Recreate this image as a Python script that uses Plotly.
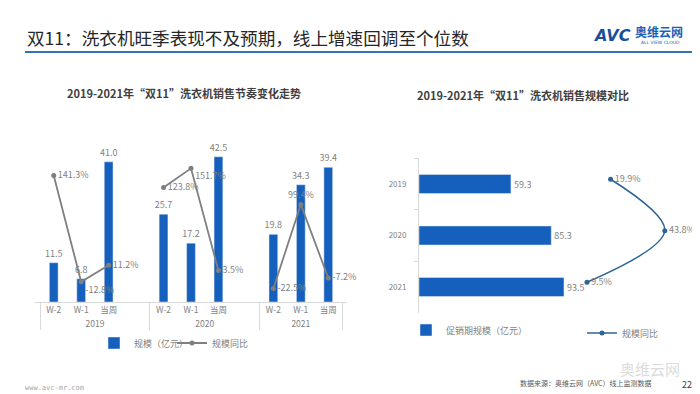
import plotly.graph_objects as go

# ---------------- data ----------------
years = ["2019", "2020", "2021"]
weeks = ["W-2", "W-1", "当周"]
scale_2019 = [11.5, 6.8, 41.0]
scale_2020 = [25.7, 17.2, 42.5]
scale_2021 = [19.8, 34.3, 39.4]
yoy_2019 = [141.3, -12.8, 11.2]
yoy_2020 = [123.8, 151.7, 3.5]
yoy_2021 = [-22.5, 99.4, -7.2]

promo_years = ["2019", "2020", "2021"]
promo_scale = [59.3, 85.3, 93.5]
promo_yoy = [19.9, 43.8, 9.5]

FONT = "Noto Sans CJK SC"
BLUE = "#1560BD"
GRAY = "#7f7f7f"
LINEBLUE = "#2c6496"

# build multicategory axis (blank slot after 2019 and 2020, as in the source chart)
cat_year, cat_week, bar_vals, line_vals = [], [], [], []
for i, (y, sv, lv) in enumerate(zip(years, [scale_2019, scale_2020, scale_2021],
                                     [yoy_2019, yoy_2020, yoy_2021])):
    for w, s, l in zip(weeks, sv, lv):
        cat_year.append(y); cat_week.append(w); bar_vals.append(s); line_vals.append(l)
    if i < len(years) - 1:
        cat_year.append(y); cat_week.append(" "); bar_vals.append(None); line_vals.append(None)

bar_text = ["" if v is None else f"{v:.1f}" for v in bar_vals]
line_text = ["" if v is None else f"{v:.1f}%" for v in line_vals]
line_pos = []
for v in line_vals:
    if v is None:
        line_pos.append("middle right")
    elif v in (-12.8, 151.7):
        line_pos.append("bottom right")
    elif v == 99.4:
        line_pos.append("top center")
    else:
        line_pos.append("middle right")

fig = go.Figure()

# left chart bars
fig.add_trace(go.Bar(
    x=[cat_year, cat_week], y=bar_vals, name="规模（亿元）",
    marker_color=BLUE, width=0.32,
    text=bar_text, textposition="outside", cliponaxis=False, constraintext="none",
    textfont=dict(size=9, color=GRAY, family=FONT),
    xaxis="x", yaxis="y", legend="legend",
))
# left chart line
fig.add_trace(go.Scatter(
    x=[cat_year, cat_week], y=line_vals, name="规模同比",
    mode="lines+markers+text", connectgaps=False,
    line=dict(color=GRAY, width=1.8), marker=dict(size=5, color=GRAY),
    text=line_text, textposition=line_pos, cliponaxis=False,
    textfont=dict(size=9, color=GRAY, family=FONT),
    xaxis="x", yaxis="y2", legend="legend4",
))

# right chart bars
fig.add_trace(go.Bar(
    x=promo_scale, y=promo_years, orientation="h", name="促销期规模（亿元）",
    marker_color=BLUE, width=0.37,
    text=[f"{v:.1f}" for v in promo_scale], textposition="outside", cliponaxis=False,
    constraintext="none",
    textfont=dict(size=9, color=GRAY, family=FONT),
    xaxis="x2", yaxis="y3", legend="legend2",
))
# right chart line
fig.add_trace(go.Scatter(
    x=promo_yoy, y=promo_years, name="规模同比",
    mode="lines+markers+text", line=dict(color=LINEBLUE, width=1.5, shape="spline"),
    marker=dict(size=5, color=LINEBLUE),
    text=[f"{v:.1f}%" for v in promo_yoy], textposition="middle right", cliponaxis=False,
    textfont=dict(size=9, color=GRAY, family=FONT),
    xaxis="x3", yaxis="y4", legend="legend3",
))

W, H = 700, 394
def px(xp): return xp / W
def py(yp): return 1 - yp / H

leg_common = dict(xanchor="left", yanchor="middle", orientation="h",
                  font=dict(size=9, color=GRAY), bgcolor="rgba(0,0,0,0)")

fig.update_layout(
    width=W, height=H, margin=dict(l=0, r=0, t=0, b=0),
    paper_bgcolor="white", plot_bgcolor="rgba(0,0,0,0)",
    font=dict(family=FONT, color=GRAY, size=9),
    showlegend=True, barmode="overlay",
    xaxis=dict(domain=[px(27), px(339)], type="multicategory", anchor="y",
               showline=True, linecolor="#d9d9d9", linewidth=1,
               showgrid=False, ticks="", tickfont=dict(size=8.5, color=GRAY),
               showdividers=True, dividercolor="#d9d9d9", dividerwidth=1),
    yaxis=dict(domain=[py(294), py(120)], range=[0, 50.9], visible=False, anchor="x"),
    yaxis2=dict(overlaying="y", range=[-42.0, 210.2], visible=False, anchor="x"),
    xaxis2=dict(domain=[px(411), px(660)], range=[0, 160.6], visible=False, anchor="y3"),
    yaxis3=dict(domain=[py(304.75), py(150.25)], type="category",
                categoryorder="array", categoryarray=promo_years, range=[2.5, -0.5],
                anchor="x2", showline=True, linecolor="#d9d9d9", showgrid=False,
                ticks="outside", ticklen=4, tickcolor="#d9d9d9", tickson="boundaries",
                tickfont=dict(size=8, color=GRAY), ticklabelstandoff=10),
    xaxis3=dict(domain=[px(411), px(660)], range=[-64.5, 45.2], visible=False, anchor="y4"),
    yaxis4=dict(domain=[py(300), py(145.5)], type="category",
                categoryorder="array", categoryarray=promo_years, range=[2.5, -0.5],
                visible=False, anchor="x3"),
    legend=dict(x=px(86), y=py(335), **leg_common),
    legend4=dict(x=px(164), y=py(335), **leg_common),
    legend2=dict(x=px(398), y=py(322), **leg_common),
    legend3=dict(x=px(574), y=py(325), **leg_common),
)

ann = []
ann.append(dict(text="双11：洗衣机旺季表现不及预期，线上增速回调至个位数",
                x=px(17), y=py(29), xref="paper", yref="paper", xanchor="left", yanchor="middle",
                showarrow=False, font=dict(size=17.6, color="#262626", family=FONT)))
ann.append(dict(text="<b>2019-2021年“双11”洗衣机销售节奏变化走势</b>",
                x=px(176), y=py(85), xref="paper", yref="paper", xanchor="center", yanchor="middle",
                showarrow=False, font=dict(size=11, color="#404040", family=FONT)))
ann.append(dict(text="<b>2019-2021年“双11”洗衣机销售规模对比</b>",
                x=px(515), y=py(87), xref="paper", yref="paper", xanchor="center", yanchor="middle",
                showarrow=False, font=dict(size=11, color="#404040", family=FONT)))
# logo
ann.append(dict(text="<b><i>AVC</i></b>", x=px(583), y=py(27), xref="paper", yref="paper",
                xanchor="left", yanchor="middle", showarrow=False,
                font=dict(size=16, color="#1a4f9c", family="DejaVu Sans")))
ann.append(dict(text="<b>奥维云网</b>", x=px(625), y=py(24), xref="paper", yref="paper",
                xanchor="left", yanchor="middle", showarrow=False,
                font=dict(size=12, color="#1a62b8", family=FONT)))
ann.append(dict(text="ALL VIEW CLOUD", x=px(631), y=py(35), xref="paper", yref="paper",
                xanchor="left", yanchor="middle", showarrow=False,
                font=dict(size=4.5, color="#1a62b8", family="DejaVu Sans")))
# footer
ann.append(dict(text="www.avc-mr.com", x=px(15), y=py(380), xref="paper", yref="paper",
                xanchor="left", yanchor="middle", showarrow=False,
                font=dict(size=7, color="#a6a6a6", family="DejaVu Sans Mono")))
ann.append(dict(text="数据来源：奥维云网（AVC）线上监测数据", x=px(510), y=py(375), xref="paper", yref="paper",
                xanchor="left", yanchor="middle", showarrow=False,
                font=dict(size=7, color="#595959", family=FONT)))
ann.append(dict(text="22", x=px(672), y=py(376), xref="paper", yref="paper",
                xanchor="left", yanchor="middle", showarrow=False,
                font=dict(size=9, color="#404040", family=FONT)))
ann.append(dict(text="奥维云网", x=px(610), y=py(360), xref="paper", yref="paper",
                xanchor="left", yanchor="middle", showarrow=False,
                font=dict(size=15, color="#dcdcdc", family=FONT)))
fig.update_layout(annotations=ann)

fig.add_shape(type="line", xref="paper", yref="paper",
              x0=px(17), x1=px(684), y0=py(44), y1=py(44),
              line=dict(color="#2e75b6", width=2))

fig.write_html("out.html")
